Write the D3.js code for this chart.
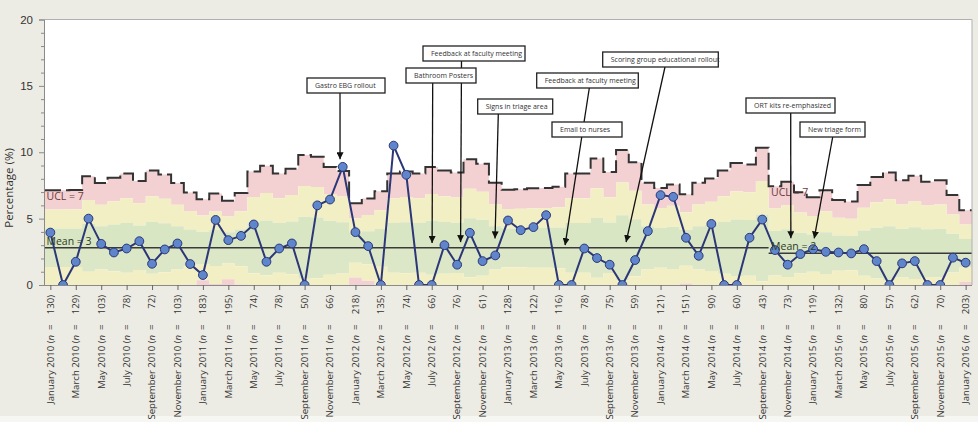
<!DOCTYPE html>
<html><head><meta charset="utf-8">
<script src="https://cdn.jsdelivr.net/npm/d3@7"></script>
<style>
body{margin:0;background:#edece4;}
svg{display:block;font-family:"Open Sans","Noto Sans",sans-serif;}
</style></head><body>
<svg id="c" width="978" height="422"></svg>
<script>
// ---------- data ----------
const firstMonth = [2010, 0];
const monthCount = 73;
const values = [3.95,0,1.75,5.0,3.1,2.45,2.75,3.3,1.6,2.68,3.13,1.58,0.75,4.9,3.38,3.7,4.56,1.75,2.75,3.13,
  0,6.0,6.44,8.9,3.98,2.93,0,10.5,8.3,0,0,3.0,1.53,3.93,1.8,2.23,4.86,4.13,4.36,5.26,
  0,0,2.75,2.03,1.53,0,1.88,4.06,6.77,6.64,3.56,2.2,4.6,0,0,3.56,4.93,2.63,1.53,2.33,
  2.7,2.5,2.45,2.38,2.7,1.8,0,1.63,1.8,0,0,2.06,1.68];
const nSizes = [130,130,129,84,103,88,78,97,72,80,103,141,183,146,195,143,74,64,78,69,
  50,52,66,73,218,177,135,78,74,78,66,72,76,55,61,102,128,126,122,121,
  116,78,78,54,75,45,59,102,121,108,151,102,90,72,60,62,43,83,73,100,
  119,94,132,139,80,64,57,70,62,73,70,110,203];
const phaseStarts = [0, 57];
const phaseMeans = [2.8, 2.4];
const uclLabels = ["UCL = 7", "UCL = 7"];
const meanLabels = ["Mean = 3", "Mean = 2"];
const yTicks = [0, 5, 10, 15, 20];
const yTitle = "Percentage (%)";
const annotations = [
  {text: "Gastro EBG rollout", tipMonth: 22.79, tipValue: 9.47},
  {text: "Feedback at faculty meeting", tipMonth: 32.27, tipValue: 3.23},
  {text: "Bathroom Posters", tipMonth: 30.03, tipValue: 3.16},
  {text: "Signs in triage area", tipMonth: 34.98, tipValue: 3.51},
  {text: "Feedback at faculty meeting", tipMonth: 40.49, tipValue: 3.0},
  {text: "Email to nurses", tipMonth: null, tipValue: null},
  {text: "Scoring group educational rollout", tipMonth: 45.29, tipValue: 3.23},
  {text: "ORT kits re-emphasized", tipMonth: 58.25, tipValue: 3.53},
  {text: "New triage form", tipMonth: 60.09, tipValue: 3.51}
];
// layout of annotation boxes (left/top in px, width px, line start x in px)
const annLayout = [
  {x: 307, y: 78, w: 78, lx: 340},
  {x: 423, y: 46, w: 102, lx: 461.5},
  {x: 406, y: 68, w: 70, lx: 432.7},
  {x: 477.7, y: 99, w: 75, lx: 498.3},
  {x: 536.7, y: 73, w: 101.6, lx: 589.3},
  {x: 552, y: 122, w: 70, lx: null},
  {x: 602.7, y: 52, w: 115.6, lx: 665},
  {x: 746, y: 98, w: 89, lx: 790.7},
  {x: 800, y: 122, w: 65, lx: 832.7}
];

// ---------- setup ----------
const svg = d3.select("#c");
const L = 44, R = 972, T = 19.5, B = 285;
const months = d3.timeMonth.range(new Date(firstMonth[0], firstMonth[1], 1),
  new Date(firstMonth[0], firstMonth[1] + monthCount, 1));
const fmt = d3.timeFormat("%B %Y");
const x = d3.scaleLinear().domain([-0.5, monthCount - 0.5]).range([L, R]);
const y = d3.scaleLinear().domain([0, 20]).range([B, T]);

const phaseOf = i => (i >= phaseStarts[1] ? 1 : 0);
const rows = values.map((v, i) => {
  const ph = phaseOf(i);
  const p = phaseMeans[ph] / 100;
  const s = 100 * Math.sqrt(p * (1 - p) / nSizes[i]);
  const m = phaseMeans[ph];
  return {i, v, m, s, ph};
});
const steps = rows.map(r => ({...r, xe: x(r.i - 0.5)}));
steps.push({...rows[rows.length - 1], xe: x(monthCount - 0.5)});

svg.append("rect").attr("x", 0).attr("y", 0).attr("width", 978).attr("height", 416).attr("fill", "#edece4");
svg.append("rect").attr("x", 0).attr("y", 416).attr("width", 978).attr("height", 6).attr("fill", "#f6f6f2");
svg.append("rect").attr("x", L).attr("y", T).attr("width", R - L).attr("height", B - T).attr("fill", "#ffffff");

svg.append("defs").append("clipPath").attr("id", "plot")
  .append("rect").attr("x", L).attr("y", T).attr("width", R - L).attr("height", B - T);
const g = svg.append("g").attr("clip-path", "url(#plot)");

const cl = v => Math.max(0, v);
const zones = [
  {lo: d => d.m + 2 * d.s, hi: d => d.m + 3 * d.s, c: "#f3d0d2"},
  {lo: d => d.m + d.s, hi: d => d.m + 2 * d.s, c: "#f3efc4"},
  {lo: d => d.m, hi: d => d.m + d.s, c: "#d9e6c4"},
  {lo: d => cl(d.m - d.s), hi: d => d.m, c: "#dbe7c7"},
  {lo: d => cl(d.m - 2 * d.s), hi: d => cl(d.m - d.s), c: "#f3efc4"},
  {lo: d => cl(d.m - 3 * d.s), hi: d => cl(d.m - 2 * d.s), c: "#f3d0d2"}
];
zones.forEach(z => {
  g.append("path").datum(steps)
    .attr("fill", z.c)
    .attr("d", d3.area().curve(d3.curveStepAfter).x(d => d.xe).y0(d => y(z.lo(d))).y1(d => y(z.hi(d))));
});

// mean lines
phaseStarts.forEach((st, k) => {
  const en = k + 1 < phaseStarts.length ? phaseStarts[k + 1] - 1 : monthCount - 1;
  g.append("line").attr("x1", x(st - 0.5)).attr("x2", x(en + 0.5))
    .attr("y1", y(phaseMeans[k])).attr("y2", y(phaseMeans[k]))
    .attr("stroke", "#3a3a3a").attr("stroke-width", 1.5);
});

// UCL
g.append("path").datum(steps)
  .attr("fill", "none").attr("stroke", "#333").attr("stroke-width", 2)
  .attr("stroke-dasharray", "17,5")
  .attr("d", d3.line().curve(d3.curveStepAfter).x(d => d.xe).y(d => y(d.m + 3 * d.s)));

// limit labels
phaseStarts.forEach((st, k) => {
  const r0 = rows[st];
  svg.append("text").attr("x", x(st - 0.5) + 2.5).attr("y", y(r0.m + 3 * r0.s) + 10)
    .attr("font-size", 10.5).attr("fill", "#6e3a3a").text(uclLabels[k]);
  svg.append("text").attr("x", x(st - 0.5) + 2.5).attr("y", y(phaseMeans[k]) - 3)
    .attr("font-size", 10.5).attr("fill", "#2f3a26").text(meanLabels[k]);
});

// data line and points
g.append("path").datum(rows)
  .attr("fill", "none").attr("stroke", "#2c3778").attr("stroke-width", 2)
  .attr("d", d3.line().x(d => x(d.i)).y(d => y(d.v)));
g.selectAll("circle").data(rows).join("circle")
  .attr("cx", d => x(d.i)).attr("cy", d => y(d.v)).attr("r", 4.4)
  .attr("fill", "#5f86cb").attr("stroke", "#2c3778").attr("stroke-width", 1);

// plot border (top/right)
svg.append("path").attr("d", `M${L},${T}H${R}V${B}`).attr("fill", "none").attr("stroke", "#b0b0b0").attr("stroke-width", 1);

// y axis
const yAxis = svg.append("g").attr("transform", `translate(${L},0)`)
  .call(d3.axisLeft(y).tickValues(yTicks).tickSize(5).tickPadding(6));
yAxis.select(".domain").attr("stroke", "#8a8a8a");
yAxis.selectAll(".tick line").attr("stroke", "#8a8a8a");
yAxis.selectAll("text").attr("font-size", 11.5).attr("fill", "#333").attr("font-family", "inherit");
const minor = svg.append("g").attr("transform", `translate(${L},0)`)
  .call(d3.axisLeft(y).tickValues(d3.range(0, 21).filter(v => v % 5 !== 0)).tickSize(3).tickFormat(""));
minor.select(".domain").remove();
minor.selectAll("line").attr("stroke", "#8a8a8a");
svg.append("text").attr("transform", `translate(12.5,${188}) rotate(-90)`)
  .attr("text-anchor", "middle").attr("font-size", 11.5).attr("fill", "#333").text(yTitle);

// x axis
const xTicks = d3.range(0, monthCount, 2);
const xAxis = svg.append("g").attr("transform", `translate(0,${B})`)
  .call(d3.axisBottom(x).tickValues(xTicks).tickSize(5).tickFormat(""));
xAxis.select(".domain").attr("stroke", "#8a8a8a").attr("d", `M${L},0.5H${R}`);
xAxis.selectAll(".tick line").attr("stroke", "#666");
const fs = "\u2007";
const xl = svg.append("g");
xTicks.forEach(i => {
  const t = xl.append("text")
    .attr("transform", `translate(${x(i) + 3.3},${B + 10}) rotate(-90)`)
    .attr("text-anchor", "end").attr("font-size", 9.6).attr("fill", "#333");
  const ns = String(nSizes[i]);
  t.append("tspan").text(fmt(months[i]) + " (");
  t.append("tspan").attr("font-style", "italic").text("n");
  t.append("tspan").text("\u2002=\u2002" + fs.repeat(4 - ns.length) + ns + ")");
});

// annotations
const ann = svg.append("g");
ann.append("defs").append("marker").attr("id", "ah").attr("viewBox", "0 0 10 10")
  .attr("refX", 10).attr("refY", 5).attr("markerWidth", 7).attr("markerHeight", 7)
  .attr("markerUnits", "userSpaceOnUse").attr("orient", "auto")
  .append("path").attr("d", "M0,0L10,5L0,10Z").attr("fill", "#111");
annotations.forEach((a, k) => {
  const lay = annLayout[k];
  if (a.tipMonth === null) return;
  ann.append("line").attr("x1", lay.lx).attr("y1", lay.y + 15)
    .attr("x2", x(a.tipMonth)).attr("y2", y(a.tipValue))
    .attr("stroke", "#111").attr("stroke-width", 1.3).attr("marker-end", "url(#ah)");
});
annotations.forEach((a, k) => {
  const lay = annLayout[k];
  ann.append("rect").attr("x", lay.x).attr("y", lay.y).attr("width", lay.w).attr("height", 15)
    .attr("fill", "#fff").attr("stroke", "#222").attr("stroke-width", 1.3);
  ann.append("text").attr("x", lay.x + 8).attr("y", lay.y + 10.2)
    .attr("font-size", 7).attr("fill", "#333").text(a.text);
});
</script></body></html>
